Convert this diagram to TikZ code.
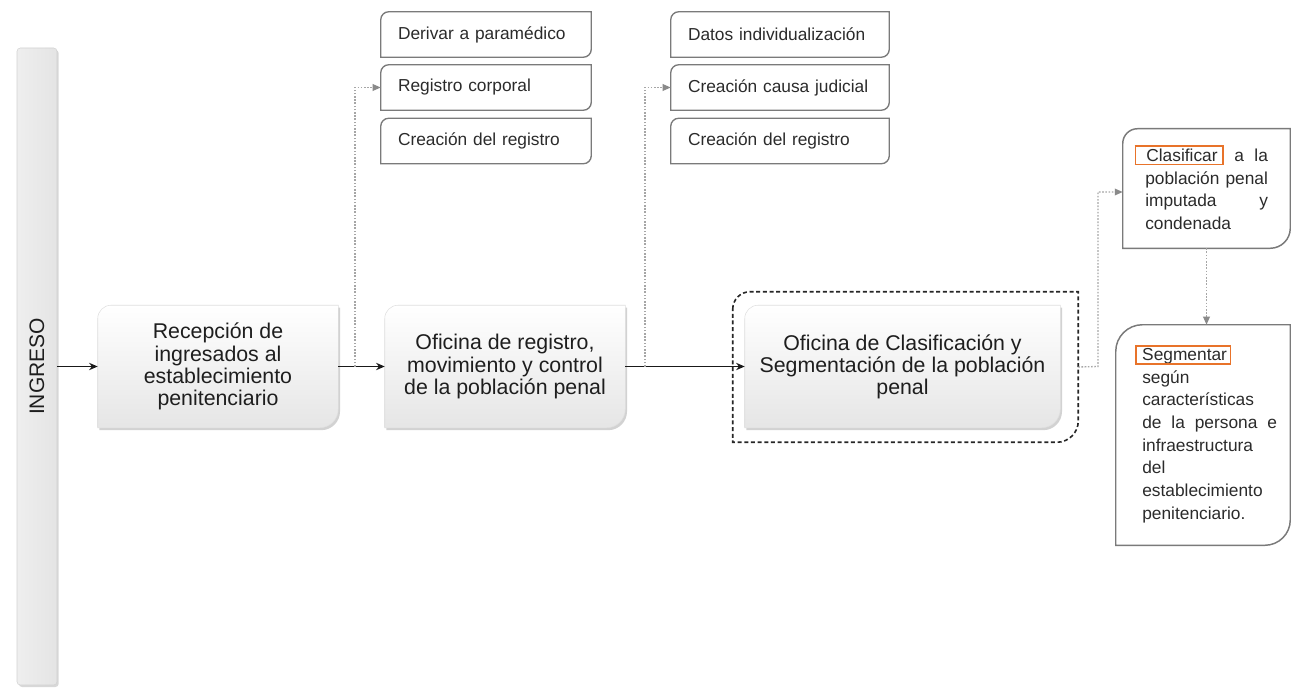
\documentclass[tikz,border=0pt]{standalone}
\usepackage{fontspec}
\setmainfont{Liberation Sans}
\usepackage{graphicx}
\usetikzlibrary{calc,shadows,arrows.meta,backgrounds}
\pgfdeclarelayer{bg0}
\pgfsetlayers{bg0,background,main}
\definecolor{txt}{HTML}{1E1E1E}
\definecolor{stxt}{HTML}{2B2B2B}
\definecolor{bord}{HTML}{7A7A7A}
\definecolor{dotc}{HTML}{A6A6A6}
\definecolor{tipc}{HTML}{8A8A8A}
\definecolor{orng}{HTML}{E8732A}
\setlength{\fboxrule}{1.3pt}
\setlength{\fboxsep}{1.5pt}
\newcommand\jline[2]{\leavevmode\hbox to #1{#2}}
\newcommand\js{\hskip 0.2em plus 1fil\relax}
% shape with rounded top-left and bottom-right corners around a node
\newcommand\diagshape[4]{%
  \path[#4] let \p1=(#1.north west), \p2=(#1.south east) in
    (\x1,\y1-#2) .. controls (\x1,\y1-0.45*#2) and (\x1+0.45*#2,\y1) .. (\x1+#2,\y1)
    -- (\x2,\y1) -- (\x2,\y2+#3)
    .. controls (\x2,\y2+0.45*#3) and (\x2-0.45*#3,\y2) .. (\x2-#3,\y2)
    -- (\x1,\y2) -- cycle;}
\begin{document}
\begin{tikzpicture}[x=0.75pt,y=-0.75pt,
  mainbox/.style={minimum width=180pt, minimum height=91.5pt, align=center,
    font=\fontsize{16}{16.6}\selectfont, text=txt, inner sep=0pt},
  smallbox/.style={minimum height=33.75pt, align=left,
    font=\fontsize{13}{15}\selectfont, text=stxt, inner xsep=12.75pt, inner ysep=0pt},
  holder/.style={inner sep=0pt},
  rtext/.style={anchor=north west, inner sep=0pt, align=left,
    font=\fontsize{13}{17}\selectfont, text=stxt},
  mainfill/.style={top color=white, bottom color=gray!20, draw=gray!25, line width=0.4pt,
    drop shadow={shadow xshift=1.3pt, shadow yshift=-1.8pt, opacity=0.35, fill=gray}},
  smallfill/.style={fill=white, draw=bord, line width=1pt},
  rightfill/.style={fill=white, draw=bord, line width=1.1pt},
  dashfill/.style={draw=black!85, line width=1.2pt, dash pattern=on 3pt off 2pt},
  mainarrow/.style={draw=black!90, line width=0.9pt, -{Stealth[length=6.5pt,width=5.5pt]}},
  dotarrow/.style={draw=dotc, line width=1pt, dash pattern=on 1.2pt off 1.2pt,
    -{Triangle[length=6pt,width=5pt,fill=tipc,color=tipc]}}
]
\useasboundingbox (0,0) rectangle (1291,688);
\begin{pgfonlayer}{bg0}
  \fill[white] (0,0) rectangle (1291,688);
\end{pgfonlayer}

% INGRESO bar
\node[minimum width=30pt, minimum height=477.75pt, inner sep=0pt,
  left color=gray!13, right color=gray!21, draw=gray!35, line width=0.4pt,
  rounded corners=2.5pt, text=txt, font=\fontsize{15.75}{17}\selectfont,
  drop shadow={shadow xshift=1.3pt, shadow yshift=-1.5pt, opacity=0.3, fill=gray}]
  (ing) at (37,366.5) {\rotatebox{90}{INGRESO}};

% main boxes
\node[mainbox] (rec) at (218,366.5) {Recepción de\\ingresados al\\establecimiento\\penitenciario};
\node[mainbox] (reg) at (505,366.5) {Oficina de registro,\\movimiento y control\\de la población penal};
\node[holder, minimum width=258.75pt, minimum height=112.5pt] (grp) at (905.5,367) {};
\node[mainbox, minimum width=236.25pt] (cls) at (902.5,366.5) {Oficina de Clasificación y\\Segmentación de la población\\penal};

% small boxes column 1
\node[smallbox, text width=132pt] (dp) at (486,34.5) {Derivar a paramédico};
\node[smallbox, text width=132pt] (rc) at (486,87.5) {Registro corporal};
\node[smallbox, text width=132pt] (cr1) at (486,141) {Creación del registro};
% small boxes column 2
\node[smallbox, text width=138pt] (di) at (780,34.5) {Datos individualización};
\node[smallbox, text width=138pt] (cj) at (780,87.5) {Creación causa judicial};
\node[smallbox, text width=138pt] (cr2) at (780,141) {Creación del registro};

% right boxes
\node[holder, minimum width=125.25pt, minimum height=89.25pt] (clas) at (1206.5,188.5) {};
\node[holder, minimum width=130.5pt, minimum height=165pt] (seg) at (1203,435) {};
\node[rtext, text width=110pt] (clastxt) at (1145,145) {\noindent
  \jline{92pt}{\kern-8pt\fcolorbox{orng}{white}{\kern6pt Clasificar\kern2pt}\js a\js la}\\
  \jline{92pt}{población\js penal}\\
  \jline{92pt}{imputada\js y}\\
  condenada};
\node[rtext, text width=115pt] (segtxt) at (1142,344.5) {\noindent
  \kern-5.25pt\fcolorbox{orng}{white}{\kern2.4pt\vphantom{S}\smash{Segmentar}\kern0.5pt}\\
  según\\
  características\\
  \jline{101pt}{de\js la\js persona\js e}\\
  infraestructura\\
  del\\
  establecimiento\\
  penitenciario.};

% shapes behind
\begin{pgfonlayer}{background}
  \diagshape{rec}{10pt}{14pt}{mainfill}
  \diagshape{reg}{10pt}{14pt}{mainfill}
  \diagshape{grp}{13pt}{16pt}{dashfill}
  \diagshape{cls}{10pt}{14pt}{mainfill}
  \diagshape{dp}{6pt}{6pt}{smallfill}
  \diagshape{rc}{6pt}{6pt}{smallfill}
  \diagshape{cr1}{6pt}{6pt}{smallfill}
  \diagshape{di}{6pt}{6pt}{smallfill}
  \diagshape{cj}{6pt}{6pt}{smallfill}
  \diagshape{cr2}{6pt}{6pt}{smallfill}
  \diagshape{clas}{11pt}{15pt}{rightfill}
  \diagshape{seg}{20pt}{19pt}{rightfill}
\end{pgfonlayer}

% connectors
\draw[mainarrow] (ing.east |- rec.west) -- (rec.west);
\draw[mainarrow] (rec.east) -- (reg.west);
\draw[mainarrow] (reg.east) -- (cls.west);

\coordinate (j1) at (355,366.5);
\coordinate (j2) at (645,366.5);
\coordinate (j3) at (1098,366.5);
\draw[dotarrow] (j1) |- (rc.west);
\draw[dotarrow] (j2) |- (cj.west);
\draw[dotarrow] (grp.east) -- (j3) |- ($(clas.west)+(0,3.5)$);
\draw[dotarrow] (clas.south) -- (clas.south |- seg.north);
\end{tikzpicture}
\end{document}
